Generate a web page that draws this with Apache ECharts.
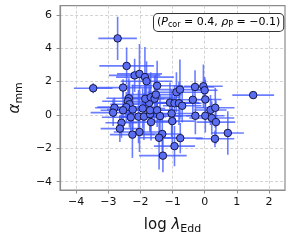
<!DOCTYPE html>
<html><head><meta charset="utf-8">
<script src="https://cdn.jsdelivr.net/npm/echarts@6/dist/echarts.min.js"></script>
<style>html,body{margin:0;padding:0;background:#fff}#c{width:300px;height:240px}</style>
</head><body><div id="c"></div>
<script>
const logEdd = [-2.71,-2.43,-3.47,-2.54,-2.18,-2.03,-1.86,-1.81,-1.48,-0.88,-0.77,-0.30,-0.04,0.00,1.51,
 -2.36,-2.39,-2.34,-2.44,-2.54,-2.81,-2.85,-2.24,-2.30,-2.06,-1.89,-1.70,-1.70,-1.93,-1.73,-1.85,-1.68,-1.56,-1.52,
 -1.48,-1.39,-1.67,-2.59,-2.64,-2.25,-2.03,-1.32,-1.42,-1.30,-0.94,-1.03,-1.01,-1.08,-0.94,-0.80,-0.70,-0.37,0.02,
 -0.29,0.02,0.18,0.33,0.22,0.35,0.72,0.32,-0.76];
const alphaMM = [4.59,2.94,1.60,1.64,2.37,2.46,2.27,2.02,1.75,1.36,1.52,1.68,1.72,1.48,1.19,
 1.00,0.82,0.64,0.47,0.28,0.43,0.14,0.33,-0.14,-0.10,-0.10,0.05,0.28,0.39,0.72,0.97,1.06,0.97,1.22,
 0.28,-0.07,-0.43,-0.47,-0.82,-1.18,-1.02,-1.14,-1.37,-2.44,-1.87,0.09,-0.37,0.74,0.70,0.70,0.55,0.91,0.93,
 -0.05,-0.05,0.30,0.43,-0.18,-0.43,-1.08,-1.43,-1.39];
const xErr = [0.60,0.85,0.60,0.90,0.80,0.70,0.90,0.80,0.80,0.90,0.80,0.60,0.60,0.40,0.65,
 0.70,0.80,0.60,0.90,0.70,0.60,0.70,0.80,0.90,0.60,0.70,0.80,0.90,0.70,0.80,0.60,0.90,0.70,0.80,
 0.60,0.70,0.80,0.50,0.60,0.70,0.80,0.60,0.60,0.74,0.64,0.80,0.70,0.90,0.80,0.70,0.60,0.60,0.50,
 0.70,0.60,0.50,0.60,0.70,0.60,0.50,0.60,0.70];
const yErr = [1.30,1.10,0.30,0.50,1.00,1.80,1.80,1.20,1.50,1.20,1.80,1.00,1.30,0.80,0.15,
 1.20,1.00,1.40,0.90,1.30,0.60,0.80,1.50,1.20,1.60,1.40,1.00,1.30,1.20,1.10,1.30,1.50,1.40,1.20,
 1.00,1.30,1.10,0.90,0.80,1.40,1.20,1.30,1.90,1.00,1.20,1.40,1.60,1.20,1.10,1.30,1.00,0.90,1.20,
 1.10,1.00,0.90,1.20,1.00,1.30,1.30,0.50,0.90];
const xTicks = [-4,-3,-2,-1,0,1,2];
const yTicks = [-4,-2,0,2,4,6];

const pts = logEdd.map((x,i)=>[x, alphaMM[i], xErr[i], yErr[i]]);
const chart = echarts.init(document.getElementById('c'), null, {renderer:'canvas'});
const FONT = 'DejaVu Sans';
const fmt = v=>(v<0?'\u2212'+Math.abs(v):''+v);
const axisLine = {show:true,onZero:false,lineStyle:{color:'#8c8c8c',width:1.2}};
const tick = {show:true,length:3.5,lineStyle:{color:'#8c8c8c'}};
const split = {show:true,lineStyle:{color:'#c8c8c8',type:[3,2],width:0.8}};
const lab = {color:'#111',fontFamily:FONT,fontSize:11};
chart.setOption({
  animation:false,
  grid:{left:45,right:15,top:5.7,bottom:43.3,containLabel:false,show:true,borderColor:'#8c8c8c',borderWidth:1.2,backgroundColor:'transparent'},
  xAxis:{type:'value',min:-4.5,max:2.5,
    axisLine:axisLine,splitLine:split,
    axisLabel:Object.assign({},lab,{margin:7,customValues:xTicks,formatter:fmt}),
    axisTick:Object.assign({},tick,{customValues:xTicks}),
    name:'{n|log }{l|\u03bb}{s|Edd}',nameLocation:'middle',nameGap:26,
    nameTextStyle:{rich:{n:{fontFamily:FONT,fontSize:15,color:'#111'},l:{fontFamily:FONT,fontSize:15,fontStyle:'italic',color:'#111'},s:{fontFamily:FONT,fontSize:11,color:'#111',verticalAlign:'bottom',padding:[8,0,0,0]}}}
  },
  yAxis:{type:'value',min:-4.5,max:6.55,
    axisLine:axisLine,splitLine:split,
    axisLabel:Object.assign({},lab,{margin:8,customValues:yTicks,formatter:fmt}),
    axisTick:Object.assign({},tick,{customValues:yTicks}),
    name:'{l|\u03b1}{s|mm}',nameLocation:'middle',nameGap:30,nameRotate:90,
    nameTextStyle:{rich:{l:{fontFamily:FONT,fontSize:15,fontStyle:'italic',color:'#111'},s:{fontFamily:FONT,fontSize:11,color:'#111',verticalAlign:'bottom',padding:[8,0,0,0]}}}
  },
  series:[
    {type:'custom',data:pts,z:2,clip:true,
     renderItem:(params,api)=>{
       const x=api.value(0),y=api.value(1),xe=api.value(2),ye=api.value(3);
       const a=api.coord([x-xe,y]),b=api.coord([x+xe,y]),c=api.coord([x,y-ye]),d=api.coord([x,y+ye]);
       const st={stroke:'rgba(65,90,255,0.78)',lineWidth:1.6};
       return {type:'group',children:[
         {type:'line',shape:{x1:a[0],y1:a[1],x2:b[0],y2:b[1]},style:st},
         {type:'line',shape:{x1:c[0],y1:c[1],x2:d[0],y2:d[1]},style:st}
       ]};
     }},
    {type:'scatter',data:pts.map(p=>[p[0],p[1]]),symbolSize:7.5,z:3,
     itemStyle:{color:'#5b6ef2',borderColor:'#141640',borderWidth:1,opacity:1}}
  ],
  graphic:[{type:'text',left:153,top:13,z:10,
    style:{text:'{t|(}{i|P}{s|cor}{t| = 0.4, }{i|\u03c1}{s|P}{t| = \u22120.1)}',
      backgroundColor:'#fff',borderColor:'#333',borderWidth:1,borderRadius:4,padding:[2,3,2,3],
      rich:{t:{fontFamily:FONT,fontSize:11,color:'#111'},i:{fontFamily:FONT,fontSize:11,fontStyle:'italic',color:'#111'},s:{fontFamily:FONT,fontSize:8,color:'#111',verticalAlign:'bottom',padding:[5,0,0,0]}}}}]
});
</script></body></html>
